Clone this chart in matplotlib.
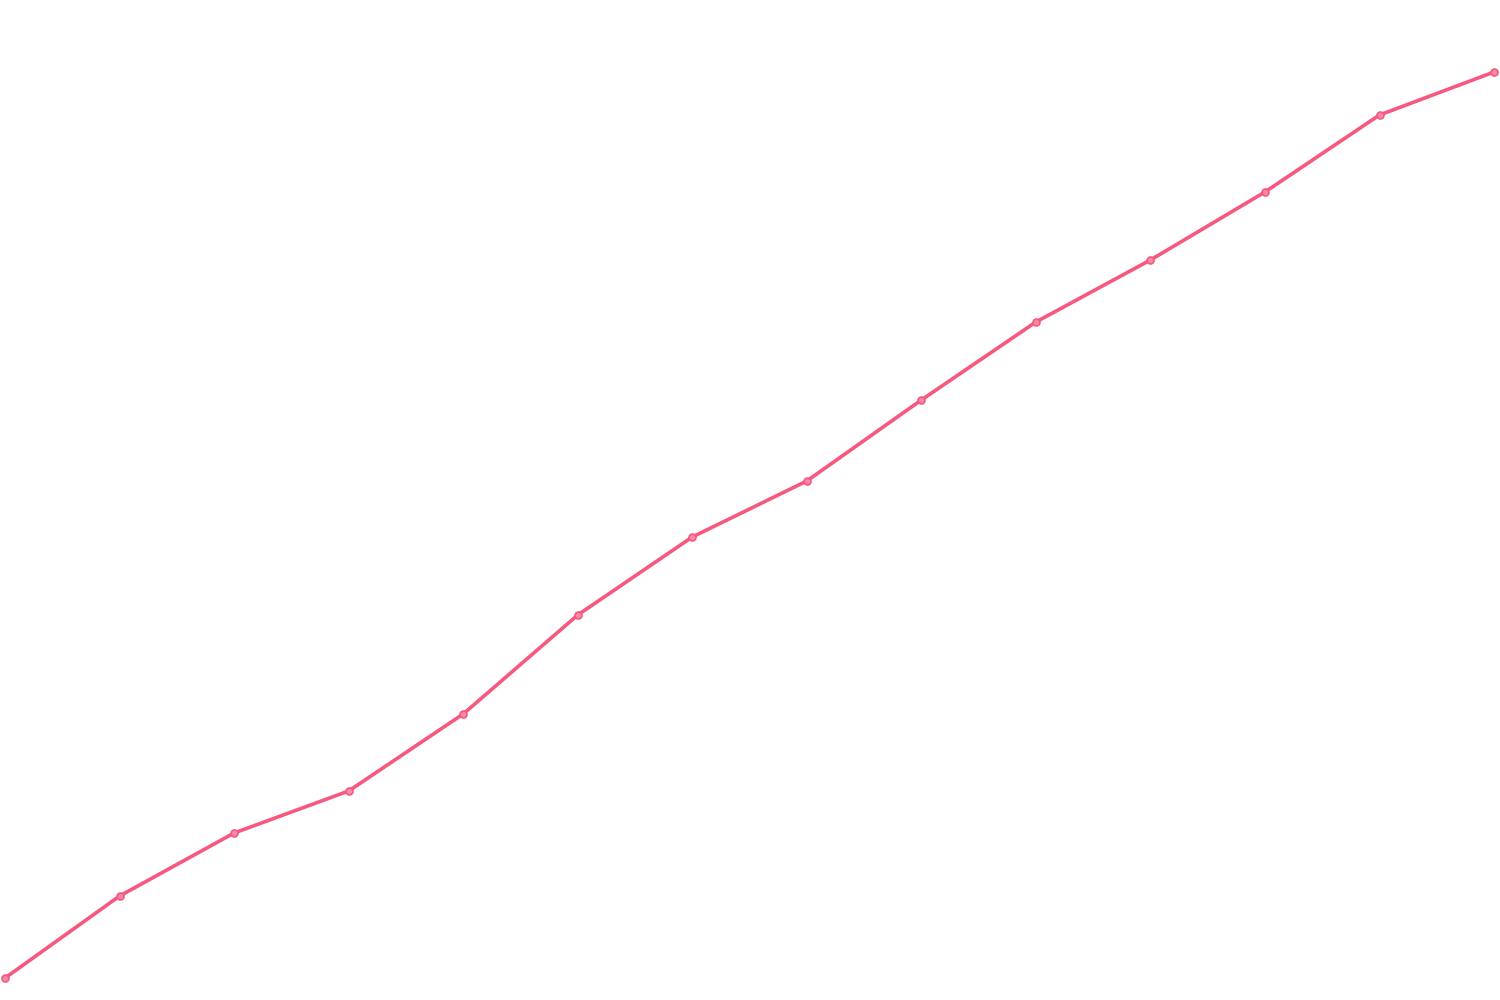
import numpy as np
import matplotlib
matplotlib.use('Agg')
import matplotlib.pyplot as plt

# one series, 14 evenly spaced points, no axes shown
steps = list(range(14))
values = [2.2, 10.4, 16.7, 20.9, 28.6, 38.5, 46.3, 51.9, 60.0, 67.8, 74.0, 80.8, 88.5, 92.8]

line_color = '#f7587f'

fig = plt.figure(figsize=(15, 10), dpi=100)
ax = fig.add_axes([0, 0, 1, 1])

ax.plot(steps, values, color=line_color, linewidth=2.6,
        marker='o', markersize=5, markerfacecolor='#f98aa6',
        markeredgecolor=line_color, markeredgewidth=1.2,
        solid_capstyle='round', solid_joinstyle='round')

ax.set_xlim(-0.044, 13.052)
ax.set_ylim(0, 100)
ax.axis('off')

fig.savefig('out.png', dpi=100, facecolor='white')
